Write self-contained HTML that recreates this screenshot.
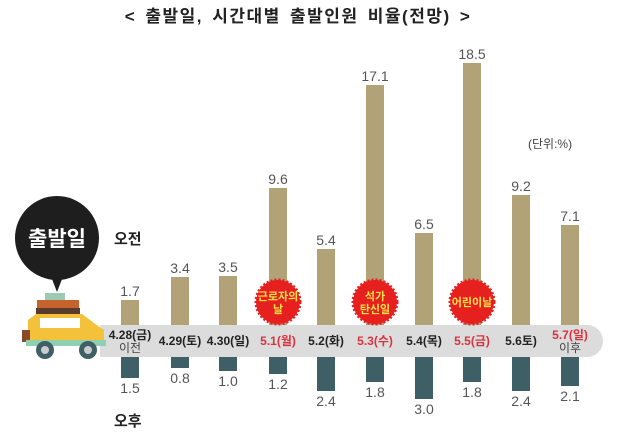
<!DOCTYPE html>
<html><head><meta charset="utf-8"><style>
body{margin:0;width:630px;height:441px;background:#fff;overflow:hidden;position:relative;font-family:"Liberation Sans","Noto Sans CJK KR",sans-serif}
.a{position:absolute}
.bt{position:absolute;width:18px;background:#b1a277}
.bb{position:absolute;width:18px;background:#3e5f66;top:357px}
.v{position:absolute;width:50px;text-align:center;font-size:14px;color:#555}
.d{position:absolute;width:56px;text-align:center;font-size:12px;font-weight:bold;color:#222;line-height:13px}
.r{color:#d7343f}
</style></head><body>
<div class="a" style="left:0;width:596px;top:2px;text-align:center;font-size:17px;font-weight:bold;color:#222;letter-spacing:1.5px;word-spacing:3px">&lt; 출발일, 시간대별 출발인원 비율(전망) &gt;</div>
<div class="a" style="left:528px;top:135px;font-size:12px;color:#444">(단위:%)</div>
<div class="a" style="left:114px;top:228px;font-size:15px;font-weight:bold;color:#222">오전</div>
<div class="a" style="left:114px;top:410px;font-size:15px;font-weight:bold;color:#222">오후</div>
<div class="a" style="left:100px;top:325px;width:503px;height:32px;background:#dcdcdc;border-radius:0 16px 16px 0"></div>
<svg class="a" style="left:0;top:190px" width="120" height="175">
<circle cx="57" cy="48" r="42" fill="#1e1e1e"/><polygon points="50,84 64,84 57,102" fill="#1e1e1e"/>
<text x="57" y="56" text-anchor="middle" font-size="21" font-weight="bold" fill="#fff" font-family="Noto Sans CJK KR,sans-serif">출발일</text>
<rect x="45" y="103" width="20" height="10" fill="#9ec9b3"/><rect x="37" y="110" width="42" height="8" fill="#c4632e"/>
<rect x="36" y="118" width="44" height="6" fill="#5a3a28"/>
<path d="M28 130 L36 124 L82 124 L98 136 L104 140 L104 156 L28 156 Z" fill="#f3c13a"/>
<rect x="40" y="128" width="40" height="10" fill="#fff"/>
<rect x="22" y="140" width="8" height="12" fill="#8a4a2a"/>
<rect x="26" y="150" width="80" height="6" fill="#8fd0b0"/>
<circle cx="45" cy="160" r="9" fill="#3e5f66"/><circle cx="88" cy="160" r="9" fill="#3e5f66"/>
<circle cx="45" cy="160" r="4" fill="#ccc"/><circle cx="88" cy="160" r="4" fill="#ccc"/>
</svg>
<div class="bt" style="left:121px;top:300px;height:25px"></div>
<div class="bt" style="left:171px;top:277px;height:48px"></div>
<div class="bt" style="left:219px;top:276px;height:49px"></div>
<div class="bt" style="left:269px;top:188px;height:137px"></div>
<div class="bt" style="left:317px;top:249px;height:76px"></div>
<div class="bt" style="left:366px;top:85px;height:240px"></div>
<div class="bt" style="left:415px;top:233px;height:92px"></div>
<div class="bt" style="left:463px;top:63px;height:262px"></div>
<div class="bt" style="left:512px;top:195px;height:130px"></div>
<div class="bt" style="left:561px;top:225px;height:100px"></div>
<div class="v" style="left:105px;top:283px">1.7</div>
<div class="v" style="left:155px;top:260px">3.4</div>
<div class="v" style="left:203px;top:259px">3.5</div>
<div class="v" style="left:253px;top:171px">9.6</div>
<div class="v" style="left:301px;top:232px">5.4</div>
<div class="v" style="left:350px;top:68px">17.1</div>
<div class="v" style="left:399px;top:216px">6.5</div>
<div class="v" style="left:447px;top:46px">18.5</div>
<div class="v" style="left:496px;top:178px">9.2</div>
<div class="v" style="left:545px;top:208px">7.1</div>
<div class="bb" style="left:121px;height:21px"></div>
<div class="bb" style="left:171px;height:11px"></div>
<div class="bb" style="left:219px;height:14px"></div>
<div class="bb" style="left:269px;height:17px"></div>
<div class="bb" style="left:317px;height:34px"></div>
<div class="bb" style="left:366px;height:25px"></div>
<div class="bb" style="left:415px;height:42px"></div>
<div class="bb" style="left:463px;height:25px"></div>
<div class="bb" style="left:512px;height:34px"></div>
<div class="bb" style="left:561px;height:29px"></div>
<div class="v" style="left:105px;top:380px">1.5</div>
<div class="v" style="left:155px;top:370px">0.8</div>
<div class="v" style="left:203px;top:373px">1.0</div>
<div class="v" style="left:253px;top:376px">1.2</div>
<div class="v" style="left:301px;top:393px">2.4</div>
<div class="v" style="left:350px;top:384px">1.8</div>
<div class="v" style="left:399px;top:401px">3.0</div>
<div class="v" style="left:447px;top:384px">1.8</div>
<div class="v" style="left:496px;top:393px">2.4</div>
<div class="v" style="left:545px;top:388px">2.1</div>
<div class="d" style="left:102px;top:329px">4.28(금)<br><span style="font-weight:normal;color:#444">이전</span></div>
<div class="d" style="left:152px;top:335px">4.29(토)</div>
<div class="d" style="left:200px;top:335px">4.30(일)</div>
<div class="d r" style="left:250px;top:335px">5.1(월)</div>
<div class="d" style="left:298px;top:335px">5.2(화)</div>
<div class="d r" style="left:347px;top:335px">5.3(수)</div>
<div class="d" style="left:396px;top:335px">5.4(목)</div>
<div class="d r" style="left:444px;top:335px">5.5(금)</div>
<div class="d" style="left:493px;top:335px">5.6토)</div>
<div class="d r" style="left:542px;top:329px">5.7(일)<br><span style="font-weight:normal;color:#444">이후</span></div>
<svg class="a" style="left:0;top:0" width="630" height="441">
<g fill="#e5201f">
<circle cx="278" cy="302" r="22" stroke="#e5201f" stroke-width="3" stroke-dasharray="2 2"/>
<circle cx="375" cy="302" r="22" stroke="#e5201f" stroke-width="3" stroke-dasharray="2 2"/>
<circle cx="472" cy="302" r="22" stroke="#e5201f" stroke-width="3" stroke-dasharray="2 2"/>
</g>
<g fill="#ffe14a" font-size="11" font-weight="bold" text-anchor="middle" font-family="Noto Sans CJK KR,sans-serif">
<text x="278" y="300">근로자의</text><text x="278" y="313">날</text>
<text x="375" y="300">석가</text><text x="375" y="313">탄신일</text>
<text x="472" y="306">어린이날</text>
</g>
</svg>
</body></html>
